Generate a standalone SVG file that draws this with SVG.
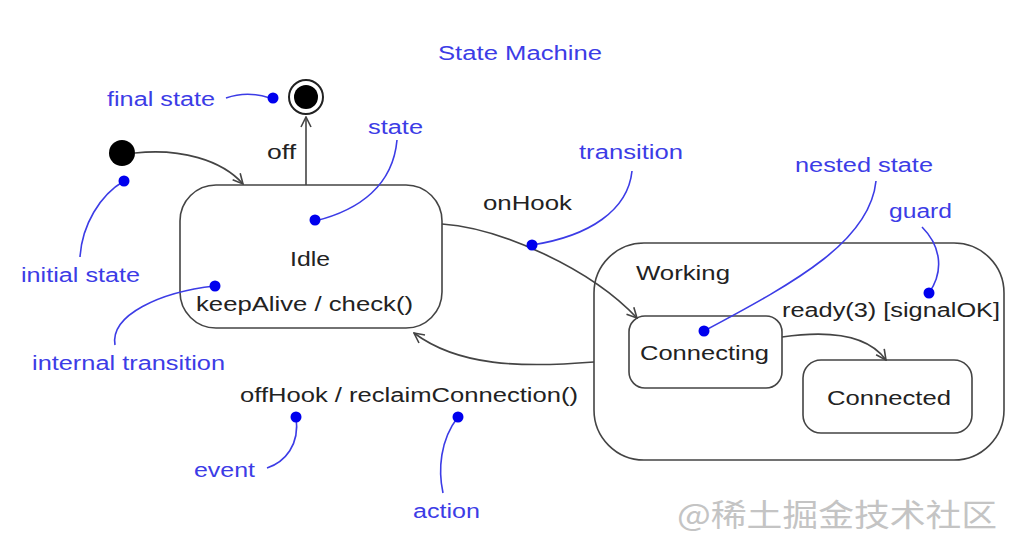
<svg xmlns="http://www.w3.org/2000/svg" width="1022" height="556" viewBox="0 0 1022 556">
<style>
.t{font-family:"Liberation Sans",Arial,sans-serif;font-size:20px;fill:#222}
.b{font-family:"Liberation Sans",Arial,sans-serif;font-size:20px;fill:#3c3ce6}
.box{fill:#fff;stroke:#444;stroke-width:1.6}
.con{fill:none;stroke:#444;stroke-width:1.6}
.lead{fill:none;stroke:#3c3ce6;stroke-width:1.6}
.dot{fill:#0000ee}
.wm{font-family:"Noto Sans CJK SC","Liberation Sans",sans-serif;font-size:31px;fill:#c4c4c4}
</style>
<defs>
<marker id="arr" markerWidth="12" markerHeight="12" refX="11" refY="6" orient="auto" markerUnits="userSpaceOnUse">
<path d="M1,1 L11,6 L1,11" fill="none" stroke="#444" stroke-width="1.6"/>
</marker>
</defs>
<rect width="1022" height="556" fill="#fff"/>
<text class="b" x="438" y="60" textLength="164" lengthAdjust="spacingAndGlyphs">State Machine</text>

<g id="initial">
<circle cx="122" cy="153" r="13" fill="#000"/>
</g>
<g id="final">
<circle cx="306" cy="97" r="17" fill="#fff" stroke="#222" stroke-width="2"/>
<circle cx="306" cy="97" r="12" fill="#000"/>
</g>
<g id="idle">
<rect class="box" x="180" y="185" width="262" height="143" rx="36"/>
<text class="t" x="290" y="266" textLength="40" lengthAdjust="spacingAndGlyphs">Idle</text>
<text class="t" x="196" y="311" textLength="217" lengthAdjust="spacingAndGlyphs">keepAlive / check()</text>
</g>
<g id="working">
<rect class="box" x="594" y="243" width="410" height="217" rx="50"/>
<text class="t" x="636" y="280" textLength="94" lengthAdjust="spacingAndGlyphs">Working</text>
</g>
<g id="connecting">
<rect class="box" x="629" y="316" width="153" height="72" rx="16"/>
<text class="t" x="640" y="360" textLength="129" lengthAdjust="spacingAndGlyphs">Connecting</text>
</g>
<g id="connected">
<rect class="box" x="803" y="360" width="169" height="73" rx="18"/>
<text class="t" x="827" y="405" textLength="124" lengthAdjust="spacingAndGlyphs">Connected</text>
</g>

<g id="connectors">
<path class="con" d="M135,153 C180,148 222,160 243,184" marker-end="url(#arr)"/>
<path class="con" d="M306,185 L306,117" marker-end="url(#arr)"/>
<path class="con" d="M442,224 C500,228 590,268 637,318" marker-end="url(#arr)"/>
<path class="con" d="M594,362 C520,368 458,366 414,333" marker-end="url(#arr)"/>
<path class="con" d="M782,337 C830,330 868,335 886,360" marker-end="url(#arr)"/>
<text class="t" x="267" y="159" textLength="29" lengthAdjust="spacingAndGlyphs">off</text>
<text class="t" x="483" y="210" textLength="89" lengthAdjust="spacingAndGlyphs">onHook</text>
<text class="t" x="782" y="317" textLength="218" lengthAdjust="spacingAndGlyphs">ready(3) [signalOK]</text>
<text class="t" x="240" y="402" textLength="338" lengthAdjust="spacingAndGlyphs">offHook / reclaimConnection()</text>
</g>

<g id="annotations">
<path class="lead" d="M226,98 C240,93 255,93 270,98"/>
<circle class="dot" cx="273" cy="98" r="5.5"/>
<text class="b" x="107" y="106" textLength="108" lengthAdjust="spacingAndGlyphs">final state</text>

<path class="lead" d="M315,221 C360,210 393,185 397,140"/>
<circle class="dot" cx="315" cy="220" r="5.5"/>
<text class="b" x="368" y="134" textLength="55" lengthAdjust="spacingAndGlyphs">state</text>

<path class="lead" d="M124,181 C100,195 82,225 80,257"/>
<circle class="dot" cx="124" cy="181" r="5.5"/>
<text class="b" x="21" y="282" textLength="119" lengthAdjust="spacingAndGlyphs">initial state</text>

<path class="lead" d="M532,245 C590,236 628,210 632,171"/>
<circle class="dot" cx="532" cy="245" r="5.5"/>
<text class="b" x="579" y="159" textLength="104" lengthAdjust="spacingAndGlyphs">transition</text>

<path class="lead" d="M704,331 C800,280 870,240 876,181"/>
<circle class="dot" cx="704" cy="331" r="5.5"/>
<text class="b" x="795" y="172" textLength="138" lengthAdjust="spacingAndGlyphs">nested state</text>

<path class="lead" d="M929,293 C945,270 940,245 922,227"/>
<circle class="dot" cx="929" cy="293" r="5.5"/>
<text class="b" x="889" y="218" textLength="63" lengthAdjust="spacingAndGlyphs">guard</text>

<path class="lead" d="M215,286 C160,292 110,315 115,345"/>
<circle class="dot" cx="215" cy="286" r="5.5"/>
<text class="b" x="32" y="370" textLength="193" lengthAdjust="spacingAndGlyphs">internal transition</text>

<path class="lead" d="M296,417 C300,445 285,462 267,468"/>
<circle class="dot" cx="296" cy="417" r="5.5"/>
<text class="b" x="194" y="477" textLength="61" lengthAdjust="spacingAndGlyphs">event</text>

<path class="lead" d="M458,417 C440,440 438,470 443,493"/>
<circle class="dot" cx="458" cy="417" r="5.5"/>
<text class="b" x="413" y="518" textLength="67" lengthAdjust="spacingAndGlyphs">action</text>
</g>

<text class="wm" x="677" y="526" textLength="320" lengthAdjust="spacingAndGlyphs">@稀土掘金技术社区</text>
</svg>
